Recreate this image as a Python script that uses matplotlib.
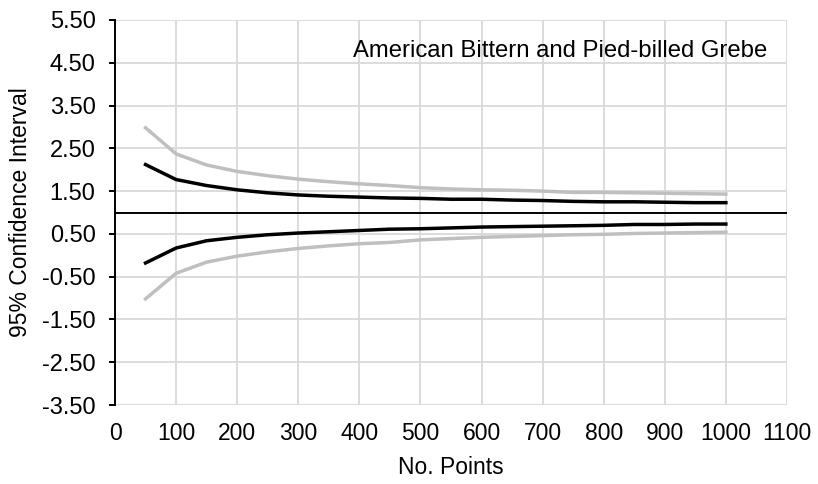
import matplotlib
matplotlib.use("Agg")
from matplotlib import pyplot as plt
from matplotlib.ticker import FormatStrFormatter

plt.rcParams['font.family'] = ['Liberation Sans', 'DejaVu Sans']

# number of points sampled
points = [50, 100, 150, 200, 250, 300, 350, 400, 450, 500,
          550, 600, 650, 700, 750, 800, 850, 900, 950, 1000]

# outer bounds (grey)
upper_outer = [2.98, 2.37, 2.11, 1.96, 1.86, 1.78, 1.72, 1.67, 1.63, 1.58,
               1.55, 1.53, 1.52, 1.50, 1.47, 1.47, 1.46, 1.45, 1.44, 1.43]
lower_outer = [-1.02, -0.42, -0.16, -0.02, 0.08, 0.16, 0.22, 0.27, 0.30, 0.36,
               0.39, 0.42, 0.44, 0.46, 0.48, 0.49, 0.51, 0.52, 0.53, 0.54]

# inner bounds (black)
upper_inner = [2.12, 1.77, 1.63, 1.53, 1.46, 1.41, 1.38, 1.36, 1.34, 1.33,
               1.31, 1.31, 1.29, 1.28, 1.26, 1.25, 1.25, 1.24, 1.23, 1.23]
lower_inner = [-0.18, 0.17, 0.34, 0.42, 0.48, 0.52, 0.55, 0.58, 0.61, 0.62,
               0.64, 0.66, 0.67, 0.68, 0.69, 0.70, 0.72, 0.72, 0.73, 0.73]

yticks = [-3.5, -2.5, -1.5, -0.5, 0.5, 1.5, 2.5, 3.5, 4.5, 5.5]
xticks = list(range(0, 1101, 100))

fig = plt.figure(figsize=(8.18, 4.84), dpi=100)
ax = fig.add_axes([0.1406, 0.1632, 0.962 - 0.1406, 0.9587 - 0.1632])

grey = '#bfbfbf'
ax.plot(points, upper_outer, color=grey, lw=2.5, zorder=3)
ax.plot(points, lower_outer, color=grey, lw=2.5, zorder=3)
ax.plot(points, upper_inner, color='black', lw=2.5, zorder=4)
ax.plot(points, lower_inner, color='black', lw=2.5, zorder=4)

# x axis crosses at 1
ax.axhline(1.0, color='black', lw=1.4, zorder=5)

ax.set_xlim(0, 1100)
ax.set_ylim(-3.5, 5.5)
ax.set_xticks(xticks)
ax.set_yticks(yticks)
ax.yaxis.set_major_formatter(FormatStrFormatter('%.2f'))

ax.grid(True, color='#d9d9d9', lw=1.3, zorder=0)
ax.set_axisbelow(True)
for side in ['top', 'right', 'bottom']:
    ax.spines[side].set_visible(False)
ax.spines['left'].set_color('black')
ax.spines['left'].set_linewidth(1.4)

ax.tick_params(axis='y', labelsize=17, length=4, width=1.4, direction='out', pad=10)
ax.tick_params(axis='x', labelsize=16.5, length=0, pad=12)

ax.set_xlabel('No. Points', fontsize=16.5, labelpad=8)
ax.set_ylabel('95% Confidence Interval', fontsize=16.5, labelpad=7)

ax.text(1068, 4.64, 'American Bittern and Pied-billed Grebe', fontsize=17.2,
        ha='right', va='baseline')

fig.savefig('out.png', dpi=100)
